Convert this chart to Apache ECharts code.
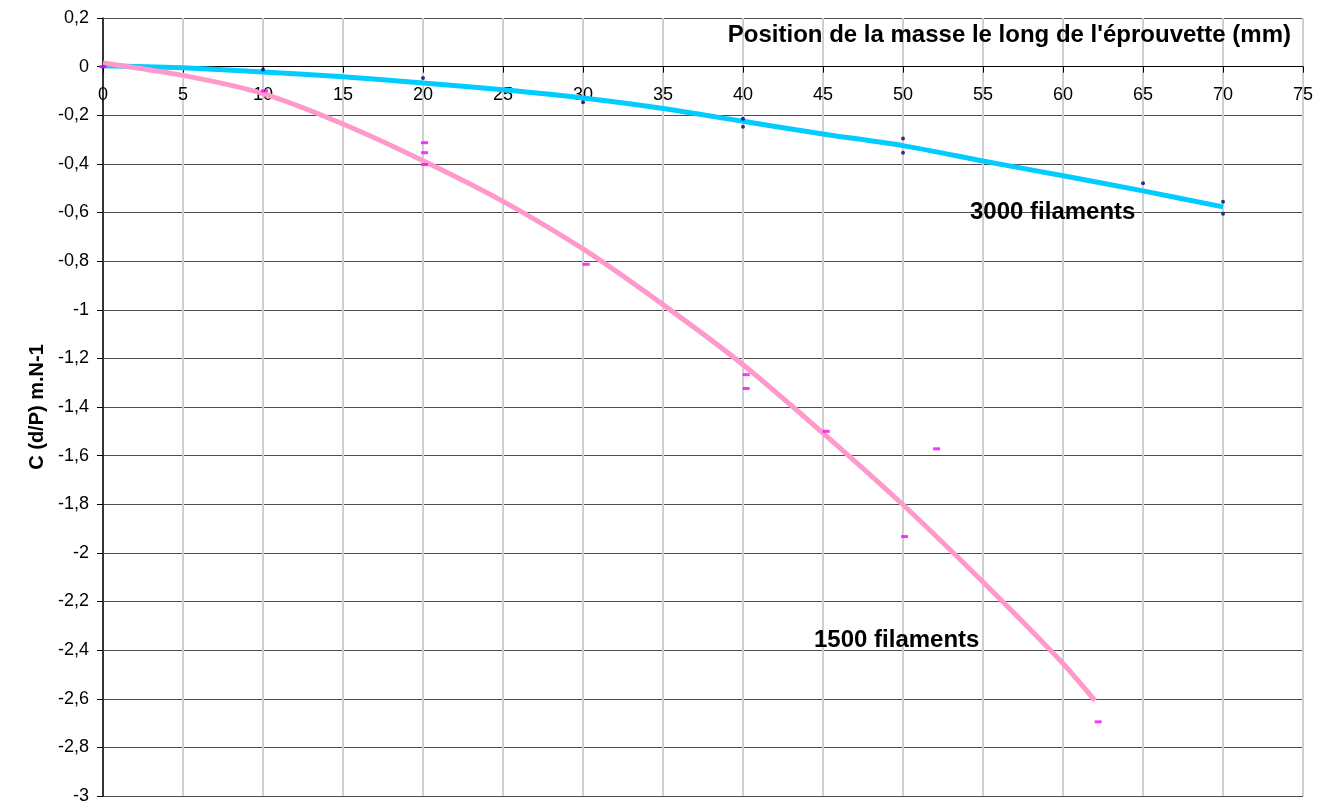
<!DOCTYPE html>
<html>
<head>
<meta charset="utf-8">
<script src="https://cdn.jsdelivr.net/npm/echarts@6/dist/echarts.min.js"></script>
<style>
html,body{margin:0;padding:0;background:#fff;}
#chart{width:1322px;height:802px;}
</style>
</head>
<body>
<div id="chart"></div>
<script>
// Trend line 3000 filaments
const trend3000X = [0, 5, 10, 15, 20, 25, 30, 35, 40, 45, 50, 55, 60, 65, 70];
const trend3000Y = [0.004, -0.005, -0.022, -0.042, -0.067, -0.095, -0.129, -0.172, -0.225, -0.277, -0.325, -0.388, -0.449, -0.511, -0.577];
// Trend line 1500 filaments
const trend1500X = [0, 5, 10, 15, 20, 25, 30, 35, 40, 45, 50, 55, 60, 62];
const trend1500Y = [0.015, -0.036, -0.111, -0.236, -0.387, -0.554, -0.75, -0.979, -1.226, -1.507, -1.802, -2.12, -2.455, -2.608];
// Measured points 3000 filaments
const pts3000X = [0, 10, 20, 30, 40, 40, 50, 50, 65, 70, 70];
const pts3000Y = [0, -0.012, -0.047, -0.147, -0.214, -0.247, -0.296, -0.354, -0.48, -0.556, -0.605];
// Measured points 1500 filaments
const pts1500X = [0, 10.1, 20.1, 20.1, 20.1, 30.2, 40.2, 40.2, 45.2, 50.1, 52.1, 62.2];
const pts1500Y = [0, -0.1, -0.313, -0.354, -0.403, -0.813, -1.267, -1.324, -1.5, -1.933, -1.572, -2.695];

const xTitle = "Position de la masse le long de l'éprouvette (mm)";
const yTitle = "C (d/P) m.N-1";
const label3000 = "3000 filaments";
const label1500 = "1500 filaments";

const zip = (xs, ys) => xs.map((x, i) => [x, ys[i]]);
const FONT = "'Liberation Sans', Arial, sans-serif";
const Y_MIN = -3, Y_MAX = 0.2;

const chart = echarts.init(document.getElementById('chart'), null, {renderer: 'canvas'});
const option = {
  animation: false,
  backgroundColor: '#ffffff',
  grid: {left: 103, right: 19, top: 18, bottom: 6, containLabel: false, outerBoundsMode: 'none'},
  xAxis: {
    type: 'value', min: 0, max: 75, interval: 5, position: 'bottom', offset: 0,
    axisLine: {onZero: false, lineStyle: {color: '#000', width: 1}},
    axisTick: {show: true, inside: false, length: 6, lineStyle: {color: '#000'}},
    axisLabel: {color: '#000', fontSize: 18, fontFamily: FONT, margin: 19},
    splitLine: {show: true, lineStyle: {color: '#cfcfcf', width: 2}}
  },
  yAxis: {
    type: 'value', min: Y_MIN, max: Y_MAX, interval: 0.2,
    axisLine: {show: true, onZero: false, lineStyle: {color: '#000', width: 1.5}},
    axisTick: {show: true, inside: false, length: 6, lineStyle: {color: '#000'}},
    axisLabel: {
      color: '#000', fontSize: 18, fontFamily: FONT, margin: 14,
      formatter: v => { const r = Math.round(v * 10) / 10; return (r === 0 ? '0' : String(r)).replace('.', ','); }
    },
    splitLine: {show: true, lineStyle: {color: '#4d4d4d', width: 1}}
  },
  graphic: [
    {type: 'text', x: 1291, y: 35, z: 100, style: {text: xTitle, align: 'right', verticalAlign: 'middle', font: "bold 24px 'Liberation Sans', Arial, sans-serif", fill: '#000'}},
    {type: 'text', x: 37, y: 407, rotation: Math.PI / 2, z: 100, style: {text: yTitle, align: 'center', verticalAlign: 'middle', font: "bold 20px 'Liberation Sans', Arial, sans-serif", fill: '#000'}},
    {type: 'text', x: 970, y: 212, z: 100, style: {text: label3000, align: 'left', verticalAlign: 'middle', font: "bold 24px 'Liberation Sans', Arial, sans-serif", fill: '#000'}},
    {type: 'text', x: 814, y: 640, z: 100, style: {text: label1500, align: 'left', verticalAlign: 'middle', font: "bold 24px 'Liberation Sans', Arial, sans-serif", fill: '#000'}}
  ],
  series: [
    {type: 'line', name: 'trend3000', data: zip(trend3000X, trend3000Y), smooth: 0.25, showSymbol: false,
     lineStyle: {color: '#00CCFF', width: 5}, z: 3},
    {type: 'line', name: 'trend1500', data: zip(trend1500X, trend1500Y), smooth: 0.25, showSymbol: false,
     lineStyle: {color: '#FF99CC', width: 5}, z: 4},
    {type: 'scatter', name: 'pts3000', data: zip(pts3000X, pts3000Y), symbol: 'circle', symbolSize: 4,
     itemStyle: {color: '#000080'}, z: 5},
    {type: 'scatter', name: 'pts1500', data: zip(pts1500X, pts1500Y), symbol: 'rect', symbolSize: [7, 3],
     itemStyle: {color: '#FF00FF'}, z: 6}
  ]
};
chart.setOption(option);
// Move the x axis up to cross the y axis at 0, using the library's own scale
const yZero = chart.convertToPixel({yAxisIndex: 0}, 0);
const yBottom = chart.convertToPixel({yAxisIndex: 0}, Y_MIN);
chart.setOption({xAxis: {offset: -(yBottom - yZero)}});
</script>
</body>
</html>
